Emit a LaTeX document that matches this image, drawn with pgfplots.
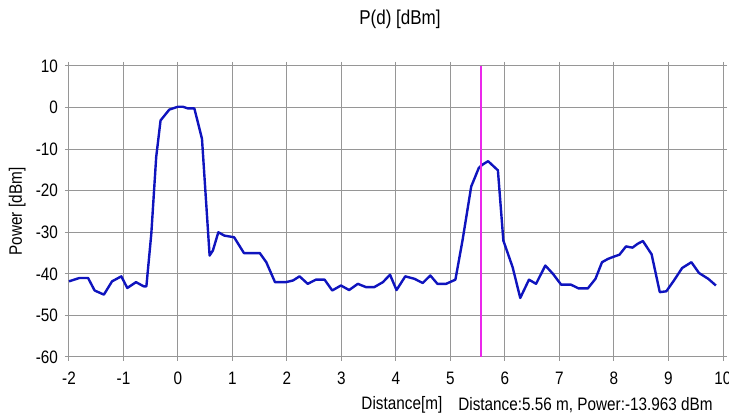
\documentclass[border=0pt]{standalone}
\usepackage{fontspec}
\setmainfont{Liberation Sans}[FakeStretch=0.85]
\usepackage{pgfplots}
\pgfplotsset{compat=1.18}
\definecolor{gridgray}{RGB}{150,150,150}
\definecolor{traceblue}{RGB}{15,20,190}
\definecolor{markerpink}{RGB}{235,40,235}
\begin{document}
\begin{tikzpicture}
\begin{axis}[
  scale only axis,
  width=327pt, height=145.5pt,
  xmin=-2, xmax=10, ymin=-60, ymax=10,
  xtick={-2,-1,...,10}, ytick={-60,-50,...,10},
  grid=major,
  grid style={gridgray, line width=0.5pt},
  axis line style={gridgray, line width=0.5pt},
  tick style={gridgray, line width=0.5pt},
  tick align=outside,
  major tick length=2pt,
  tick label style={font=\fontsize{9}{10}\selectfont},
  /pgf/number format/assume math mode=true,
  xticklabel style={yshift=-2pt},
  clip=false,
]
\addplot[draw=traceblue, line width=1.2pt, line join=round, mark=none] coordinates {
(-2,-41.8) (-1.81,-41) (-1.65,-41) (-1.53,-44) (-1.36,-45) (-1.21,-41.8)
(-1.04,-40.6) (-0.93,-43.4) (-0.77,-42) (-0.63,-43) (-0.58,-43) (-0.49,-30.4)
(-0.40,-11.9) (-0.32,-3.1) (-0.16,-0.5) (0,0.2) (0.09,0.2) (0.18,-0.2)
(0.30,-0.2) (0.44,-7.5) (0.58,-35.6) (0.64,-34.4) (0.74,-30) (0.85,-30.8)
(1.03,-31.2) (1.21,-35) (1.50,-35) (1.62,-37.2) (1.78,-42) (1.98,-42)
(2.11,-41.6) (2.23,-40.6) (2.38,-42.4) (2.53,-41.4) (2.69,-41.4) (2.83,-44)
(2.99,-42.8) (3.14,-43.9) (3.30,-42.4) (3.45,-43.2) (3.60,-43.2) (3.76,-42)
(3.89,-40.2) (4.01,-43.9) (4.17,-40.6) (4.34,-41.2) (4.49,-42.2) (4.63,-40.4)
(4.76,-42.4) (4.92,-42.4) (5.09,-41.4) (5.22,-32) (5.38,-19) (5.52,-14.5)
(5.59,-13.7) (5.69,-12.9) (5.87,-15.1) (5.97,-32) (6.14,-38.4) (6.28,-45.8)
(6.44,-41.4) (6.57,-42.4) (6.74,-38) (6.88,-40) (7.03,-42.6) (7.21,-42.6)
(7.35,-43.5) (7.52,-43.5) (7.66,-41.2) (7.78,-37.2) (7.89,-36.4) (8.01,-35.8)
(8.10,-35.4) (8.22,-33.4) (8.34,-33.7) (8.43,-32.8) (8.53,-32.1) (8.69,-35.3)
(8.84,-44.4) (8.96,-44.2) (9.10,-41.6) (9.25,-38.6) (9.42,-37.2) (9.56,-39.8)
(9.73,-41.2) (9.87,-42.8)
};
\addplot[draw=markerpink, line width=0.6pt, mark=none] coordinates {(5.56,-60) (5.56,10)};
\coordinate (ll) at (rel axis cs:0,0);
\coordinate (ur) at (rel axis cs:1,1);
\node[font=\fontsize{10}{12}\selectfont] at (rel axis cs:0.506,1.16) {P(d) [dBm]};
\node[font=\fontsize{9}{10}\selectfont, rotate=90] at (rel axis cs:-0.079,0.5) {Power [dBm]};
\node[font=\fontsize{9}{10}\selectfont] at (rel axis cs:0.509,-0.165) {Distance[m]};
\node[font=\fontsize{9}{10}\selectfont, anchor=east] at (rel axis cs:0.995,-0.165) {Distance:5.56 m, Power:-13.963 dBm};
\end{axis}
\pgfresetboundingbox
\path ([shift={(-34.5pt,-29pt)}]ll) rectangle ([shift={(3pt,33pt)}]ur);
\end{tikzpicture}
\end{document}
